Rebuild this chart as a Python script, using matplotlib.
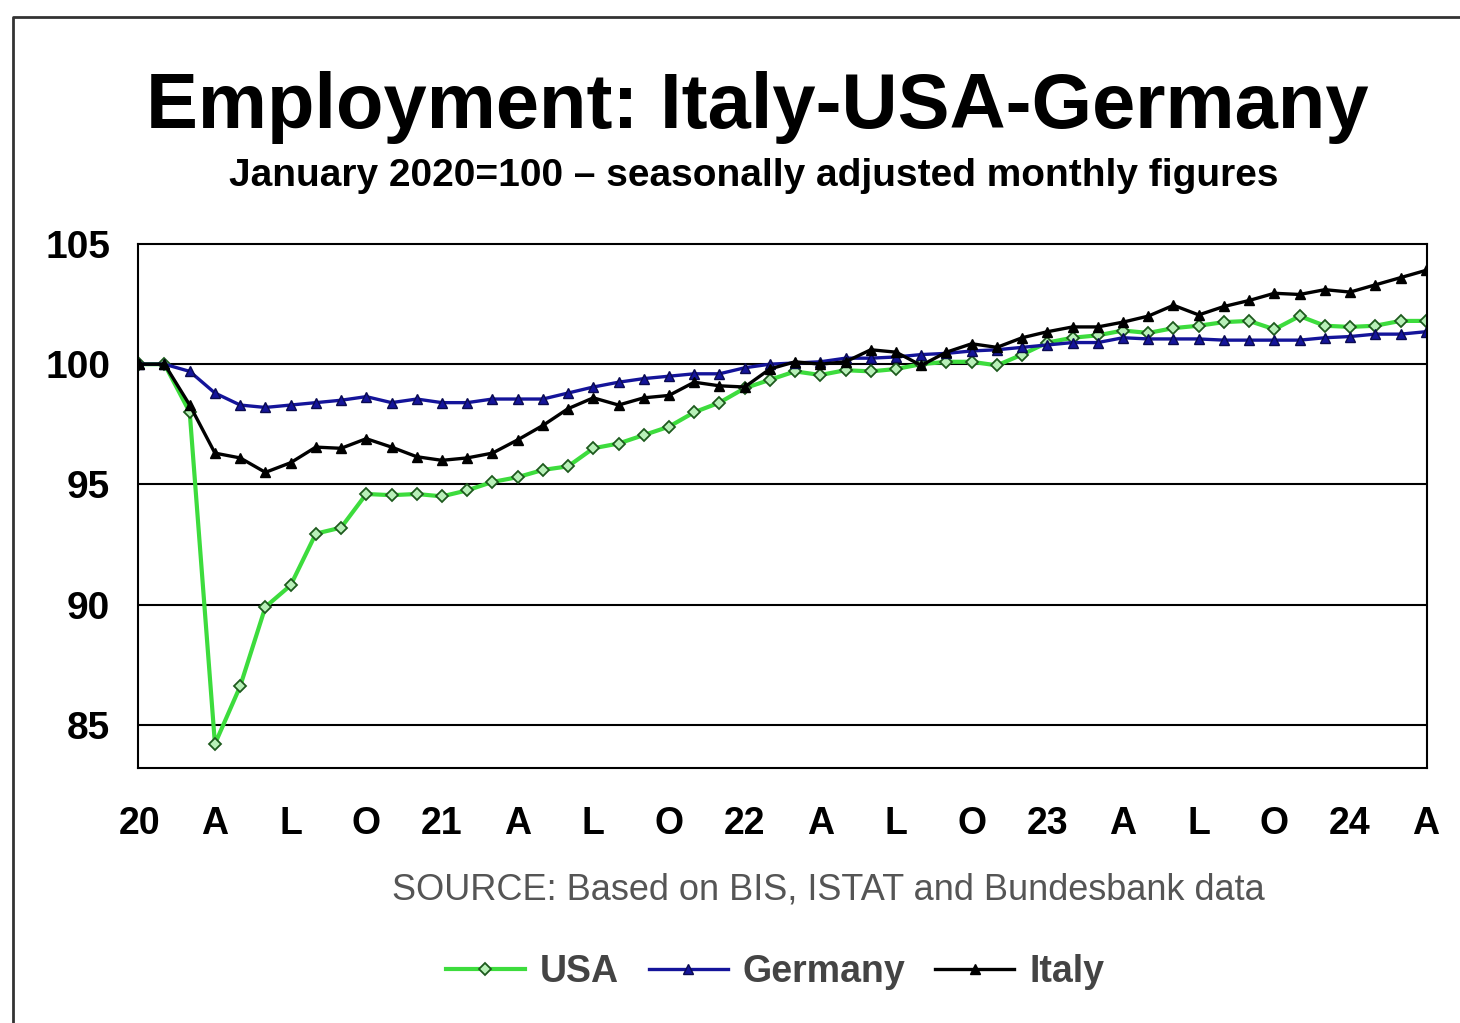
import numpy as np
import matplotlib.pyplot as plt
from matplotlib.lines import Line2D

plt.rcParams['font.family'] = ['Liberation Sans', 'DejaVu Sans']

# monthly index, Jan 2020 .. Apr 2024 (Jan 2020 = 100)
usa = [100.0, 100.0, 98.0, 84.2, 86.6, 89.9, 90.8, 92.95, 93.2, 94.6,
       94.55, 94.6, 94.5, 94.75, 95.1, 95.3, 95.6, 95.75, 96.5, 96.7,
       97.05, 97.4, 98.0, 98.4, 99.0, 99.35, 99.7, 99.55, 99.75, 99.7,
       99.8, 100.0, 100.1, 100.1, 99.95, 100.4, 100.9, 101.1, 101.2, 101.4,
       101.3, 101.5, 101.6, 101.75, 101.8, 101.45, 102.0, 101.6, 101.55, 101.6,
       101.8, 101.8]
germany = [100.0, 100.0, 99.7, 98.8, 98.3, 98.2, 98.3, 98.4, 98.5, 98.65,
           98.4, 98.55, 98.4, 98.4, 98.55, 98.55, 98.55, 98.8, 99.05, 99.25,
           99.4, 99.5, 99.6, 99.6, 99.85, 100.0, 100.05, 100.1, 100.25, 100.25,
           100.3, 100.4, 100.45, 100.55, 100.6, 100.7, 100.8, 100.9, 100.9, 101.1,
           101.05, 101.05, 101.05, 101.0, 101.0, 101.0, 101.0, 101.1, 101.15, 101.25,
           101.25, 101.35]
italy = [100.0, 100.0, 98.3, 96.3, 96.1, 95.5, 95.9, 96.55, 96.5, 96.9,
         96.55, 96.15, 96.0, 96.1, 96.3, 96.85, 97.45, 98.15, 98.6, 98.3,
         98.6, 98.7, 99.25, 99.1, 99.05, 99.8, 100.1, 100.0, 100.1, 100.6,
         100.5, 99.95, 100.5, 100.85, 100.7, 101.1, 101.35, 101.55, 101.55, 101.75,
         102.0, 102.45, 102.05, 102.4, 102.65, 102.95, 102.9, 103.1, 103.0, 103.3,
         103.6, 103.9]
xlabels = ['20', 'A', 'L', 'O', '21', 'A', 'L', 'O', '22', 'A', 'L', 'O',
           '23', 'A', 'L', 'O', '24', 'A']
ylevels = [85, 90, 95, 100, 105]

months = np.arange(len(usa))

fig = plt.figure(figsize=(14.6, 10.23), dpi=100)
ax = fig.add_axes([138 / 1460, 1 - 768 / 1023, (1427 - 138) / 1460, (768 - 244) / 1023])

ax.plot(months, usa, color='#3ddc3d', lw=3, marker='D', ms=6.5,
        mfc='#b8f0b8', mec='#1d5a1d', mew=1.3, label='USA')
ax.plot(months, germany, color='#14149a', lw=2.4, marker='^', ms=7,
        mfc='#14149a', mec='#0a0a50', label='Germany')
ax.plot(months, italy, color='black', lw=2.4, marker='^', ms=7,
        mfc='black', mec='black', label='Italy')

ax.set_xlim(-0.05, 51.05)
ax.set_ylim(83.2, 105)
ax.set_yticks(ylevels)
ax.set_yticklabels([str(v) for v in ylevels], fontsize=28, fontweight='bold')
ax.set_xticks(np.arange(0, 52, 3))
ax.set_xticklabels(xlabels, fontsize=27, fontweight='bold')
ax.tick_params(length=0, axis='y', pad=20)
ax.tick_params(length=0, axis='x', pad=27)
for v in ylevels[:-1]:
    ax.axhline(v, color='black', lw=1.5, zorder=1)
for s in ax.spines.values():
    s.set_linewidth(1.5)

fig.text(0.519, 1 - 128 / 1023, 'Employment: Italy-USA-Germany', ha='center',
         va='baseline', fontsize=56, fontweight='bold')
fig.text(0.516, 1 - 186 / 1023, 'January 2020=100 \u2013 seasonally adjusted monthly figures',
         ha='center', va='baseline', fontsize=28, fontweight='bold')
fig.text(828 / 1460, 1 - 899 / 1023, 'SOURCE: Based on BIS, ISTAT and Bundesbank data',
         ha='center', va='baseline', fontsize=26, color='#555555')

leg = fig.legend(loc='center', bbox_to_anchor=(775 / 1460, 1 - 972 / 1023), ncol=3,
                 frameon=False, handlelength=2.1, handletextpad=0.4, columnspacing=0.8,
                 prop={'size': 27, 'weight': 'bold'})
for t in leg.get_texts():
    t.set_color('#444444')

# outer frame
fig.add_artist(Line2D([13 / 1460, 13 / 1460, 1], [0, 1 - 17 / 1023, 1 - 17 / 1023],
                      transform=fig.transFigure, color='#333333', lw=2))

fig.savefig('out.png', dpi=100)
